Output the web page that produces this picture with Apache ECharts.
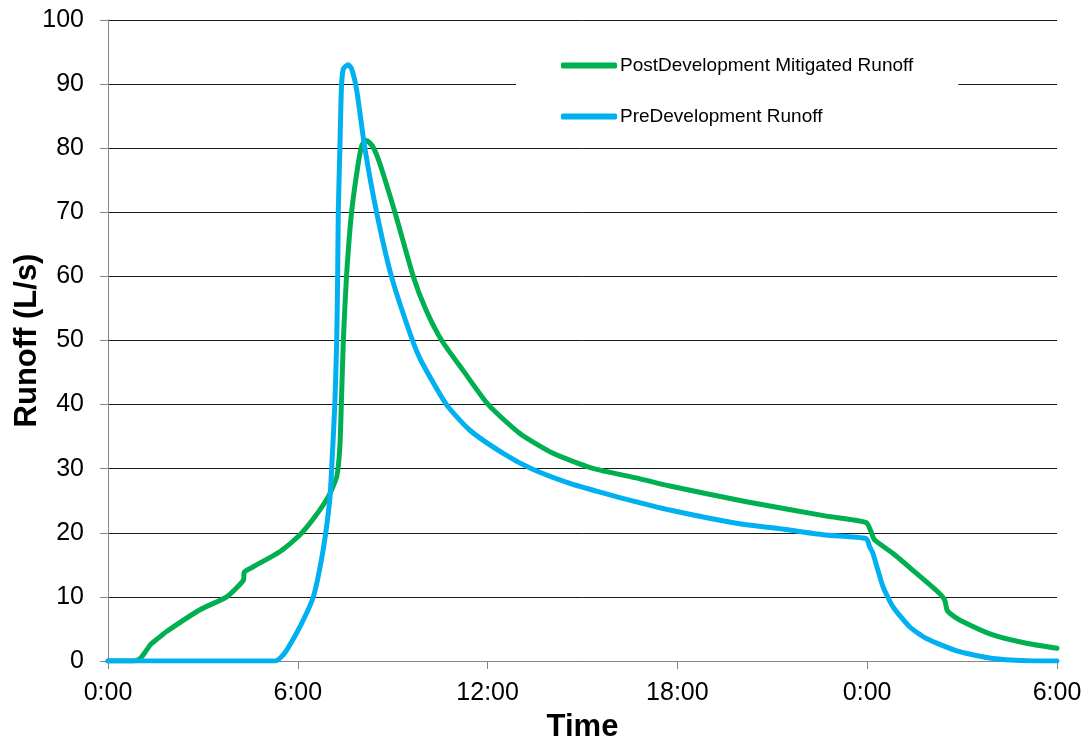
<!DOCTYPE html>
<html>
<head>
<meta charset="utf-8">
<script src="https://cdn.jsdelivr.net/npm/echarts@6/dist/echarts.min.js"></script>
<style>
html,body{margin:0;padding:0;background:#fff;}
#chart{width:1088px;height:745px;}
</style>
</head>
<body>
<div id="chart"></div>
<script>
// Time in hours from start of storm
const postHours = [0, 0.8, 1.0, 1.15, 1.35, 1.6, 1.85, 2.91, 3.75, 4.28, 4.31, 4.59, 5.43, 6.07, 6.54, 6.96, 7.23, 7.33, 7.38, 7.44, 7.54, 7.7, 7.91, 8.03, 8.17, 8.38, 8.6, 9.07, 9.65, 10.05, 10.55, 11.23, 12.02, 13.02, 14.07, 15.33, 16.76, 17.76, 20.18, 22.71, 23.97, 24.12, 24.23, 24.81, 25.55, 26.23, 26.45, 26.52, 26.62, 26.92, 27.97, 29.03, 30];
const postValues = [0, 0, 0.3, 1.2, 2.6, 3.6, 4.6, 8.0, 10.0, 12.6, 13.9, 14.7, 17.05, 19.7, 22.5, 25.6, 28.75, 33.4, 40.7, 50, 60, 70, 77.6, 80.5, 81.2, 80.2, 77.5, 70, 60, 54.8, 50, 45.3, 40, 35.5, 32.4, 30.05, 28.5, 27.3, 24.85, 22.6, 21.6, 20.2, 18.9, 16.8, 13.7, 10.8, 9.5, 8.0, 7.4, 6.4, 4.06, 2.76, 1.98];
const preHours = [0, 5.28, 5.45, 5.65, 6.07, 6.49, 6.8, 7.01, 7.07, 7.17, 7.23, 7.26, 7.28, 7.33, 7.38, 7.44, 7.59, 7.7, 7.86, 8.12, 8.49, 8.96, 9.59, 9.9, 10.7, 11.44, 12.49, 13.39, 14.6, 15.44, 16.18, 17.76, 19.86, 21.44, 22.71, 23.97, 24.08, 24.18, 24.5, 24.81, 25.34, 25.87, 26.92, 27.97, 29.03, 30];
const preValues = [0, 0, 0.5, 1.7, 5.35, 10.0, 17.3, 25.1, 30, 40, 50, 60, 70, 80, 89.5, 92.4, 93.0, 92.4, 89.1, 80, 70, 60, 50.5, 46.8, 40, 36.0, 32.4, 30, 27.7, 26.5, 25.5, 23.55, 21.5, 20.5, 19.65, 19.1, 17.8, 16.8, 11.6, 8.5, 5.35, 3.5, 1.45, 0.4, 0.05, 0];
const xTickLabels = ['0:00', '6:00', '12:00', '18:00', '0:00', '6:00'];
const seriesNames = ['PostDevelopment Mitigated Runoff', 'PreDevelopment Runoff'];

const pair = (xs, ys) => xs.map((x, i) => [x, ys[i]]);

const chart = echarts.init(document.getElementById('chart'), null, {renderer: 'canvas'});
const font = 'Liberation Sans, Arial, sans-serif';
chart.setOption({
  animation: false,
  backgroundColor: '#fff',
  grid: {left: 108, right: 31, top: 20, bottom: 84, containLabel: false, outerBoundsMode: 'none'},
  legend: {
    orient: 'vertical',
    left: 516,
    top: 44,
    width: 444,
    padding: [12, 45, 12, 45],
    backgroundColor: '#fff',
    itemWidth: 56,
    itemHeight: 6,
    itemGap: 32,
    icon: 'roundRect',
    textStyle: {fontFamily: font, fontSize: 19, color: '#000', padding: [0, 0, 0, -2]},
    data: seriesNames
  },
  xAxis: {
    type: 'value',
    min: 0, max: 30, interval: 6,
    name: 'Time',
    nameLocation: 'middle',
    nameGap: 51,
    nameMoveOverlap: false,
    nameTextStyle: {fontFamily: font, fontSize: 31, fontWeight: 'bold', color: '#000'},
    axisLine: {show: true, lineStyle: {color: '#868686', width: 1}},
    axisTick: {show: true, length: 8, lineStyle: {color: '#868686'}},
    axisLabel: {fontFamily: font, fontSize: 25, color: '#000', margin: 20,
      formatter: v => xTickLabels[Math.round(v / 6)]},
    splitLine: {show: false}
  },
  yAxis: {
    type: 'value',
    min: 0, max: 100, interval: 10,
    name: 'Runoff (L/s)',
    nameLocation: 'middle',
    nameRotate: 90,
    nameGap: 65,
    nameMoveOverlap: false,
    nameTextStyle: {fontFamily: font, fontSize: 31, fontWeight: 'bold', color: '#000'},
    axisLine: {show: true, lineStyle: {color: '#868686', width: 1}},
    axisTick: {show: true, length: 8, lineStyle: {color: '#868686'}},
    axisLabel: {fontFamily: font, fontSize: 25, color: '#000', margin: 24},
    splitLine: {show: true, lineStyle: {color: '#1a1a1a', width: 1}}
  },
  series: [
    {
      name: seriesNames[0], type: 'line', data: pair(postHours, postValues),
      showSymbol: false, symbol: 'none', smooth: 0.2,
      lineStyle: {color: '#00B050', width: 5, cap: 'round', join: 'round'},
      itemStyle: {color: '#00B050'}, z: 2
    },
    {
      name: seriesNames[1], type: 'line', data: pair(preHours, preValues),
      showSymbol: false, symbol: 'none', smooth: 0.2,
      lineStyle: {color: '#00B0F0', width: 5, cap: 'round', join: 'round'},
      itemStyle: {color: '#00B0F0'}, z: 3
    }
  ]
});
</script>
</body>
</html>
